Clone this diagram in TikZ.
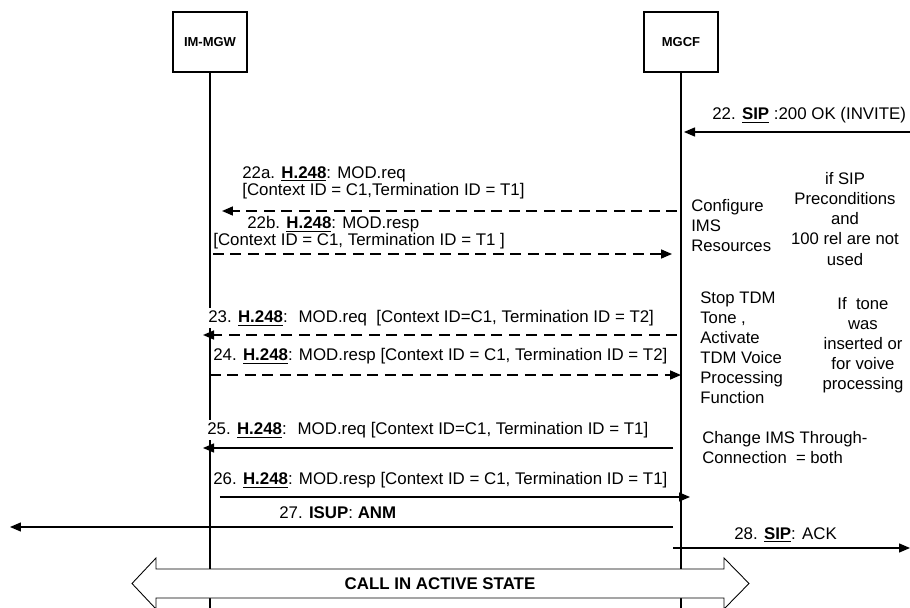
\documentclass[tikz,border=0pt]{standalone}
\usepackage{fontspec}
\setmainfont{Liberation Sans}
\usetikzlibrary{arrows.meta}
\newcommand{\proto}[1]{\underline{\textbf{#1}}}
\tikzset{
  entity/.style={draw,line width=0.75pt,minimum width=1.48cm,minimum height=1.2cm,
                 inner sep=0pt,font=\fontsize{7.4}{8}\selectfont\bfseries},
  life/.style={line width=0.6pt},
  msg/.style={-{Triangle[length=0.22cm,width=0.18cm]},line width=0.75pt},
  dmsg/.style={msg,line width=0.9pt,dash pattern=on 0.22cm off 0.13cm},
  lbl/.style={anchor=west,inner sep=0pt,align=left,font=\fontsize{9.6}{9.8}\selectfont},
  cover/.style={fill=white,inner ysep=1pt,inner xsep=0pt},
  note/.style={inner sep=0pt,font=\fontsize{9.5}{11.4}\selectfont},
  state/.style={draw,line width=0.5pt,fill=white}
}
\begin{document}
\begin{tikzpicture}[x=0.02cm,y=-0.02cm]
  \useasboundingbox (0,0) rectangle (910,608);
  % entities and life lines
  \node[entity] (gw) at (210,42) {IM-MGW};
  \node[entity] (mgcf) at (681,42) {MGCF};
  \coordinate (bot) at (0,608);
  \draw[life] (gw.south) -- (gw |- bot);
  \draw[life] (mgcf.south) -- (mgcf |- bot);
  % message levels
  \foreach \n/\y in {22/132,22a/211,22b/254,23/335,24/375,25/448,26/497,27/527,28/548}
    \coordinate (y\n) at (0,\y);
  \coordinate (sipin) at (910,132);
  \coordinate (isupout) at (10,527);
  \coordinate (sipout) at (910,548);
  % messages
  \node[lbl] (l22) at (712,115) {22. \proto{SIP} :200 OK (INVITE)};
  \draw[msg,shorten >=0.06cm] (sipin) -- (mgcf |- y22);
  \node[lbl] (l22a) at (242,182.5) {22a. \proto{H.248}: MOD.req\\{[}Context ID = C1,Termination ID = T1]};
  \draw[dmsg,shorten >=0.24cm,shorten <=0.08cm] (mgcf |- y22a) -- (gw |- y22a);
  \node[lbl] (l22b) at (213,233) {\hspace{0.68cm}22b. \proto{H.248}: MOD.resp\\{[}Context ID = C1, Termination ID = T1 ]};
  \draw[dmsg,shorten >=0.18cm,shorten <=0.06cm] (gw |- y22b) -- (mgcf |- y22b);
  \node[lbl,cover] (l23) at (208,318) {23. \proto{H.248}: \ MOD.req \ [Context ID=C1, Termination ID = T2]};
  \draw[dmsg,shorten >=-0.14cm,shorten <=0.08cm] (mgcf |- y23) -- (gw |- y23);
  \node[lbl] (l24) at (213,356) {24. \proto{H.248}: MOD.resp [Context ID = C1, Termination ID = T2]};
  \draw[dmsg] (gw |- y24) -- (mgcf |- y24);
  \node[lbl,cover] (l25) at (207,430) {25. \proto{H.248}: \ MOD.req [Context ID=C1, Termination ID = T1]};
  \draw[msg,shorten >=-0.14cm,shorten <=0.16cm] (mgcf |- y25) -- (gw |- y25);
  \node[lbl] (l26) at (213,480) {26. \proto{H.248}: MOD.resp [Context ID = C1, Termination ID = T1]};
  \draw[msg,shorten <=0.2cm,shorten >=-0.18cm] (gw |- y26) -- (mgcf |- y26);
  \node[lbl] (l27) at (279,513) {27. \textbf{ISUP}: \textbf{ANM}};
  \draw[msg,shorten <=0.16cm] (mgcf |- y27) -- (isupout);
  \node[lbl] (l28) at (734,535) {28. \proto{SIP}: ACK};
  \draw[msg,shorten <=-0.16cm] (mgcf |- y28) -- (sipout);
  % notes
  \node[note,anchor=west,align=left] (cfg) at (691,226) {Configure\\IMS\\Resources};
  \node[note,align=center] (precond) at (845,219) {if SIP\\Preconditions\\and\\100 rel are not\\used};
  \node[note,anchor=west,align=left] (stoptone) at (700,348) {Stop TDM\\Tone ,\\Activate\\TDM Voice\\Processing\\Function};
  \node[note,align=center] (tone) at (863,345) {If \ tone\\was\\inserted or\\for voive\\processing};
  \node[note,anchor=west,align=left] (through) at (702,448) {Change IMS Through-\\Connection \ = both};
  % active call
  \draw[state] (132,583.5) -- (156,558) -- (156,569) -- (724,569) -- (724,558) -- (749,583.5)
    -- (724,609) -- (724,598) -- (156,598) -- (156,609) -- cycle;
  \node[font=\fontsize{9.6}{10}\selectfont\bfseries] (active) at (440,583.5) {CALL IN ACTIVE STATE};
\end{tikzpicture}
\end{document}
